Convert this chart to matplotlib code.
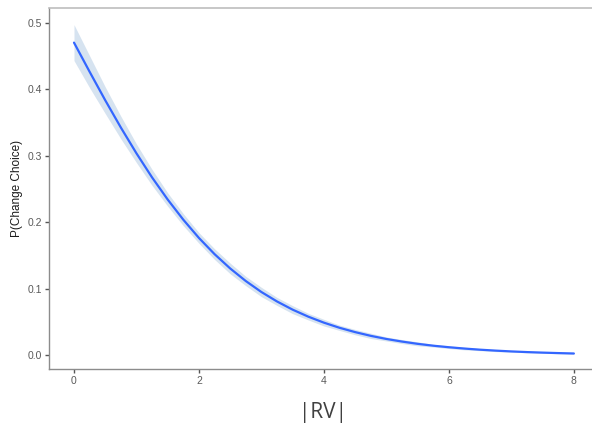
import numpy as np
import matplotlib
matplotlib.use("Agg")
import matplotlib.pyplot as plt

# |RV| grid and fitted probability
rv = [0.0, 0.25, 0.5, 0.75, 1.0, 1.25, 1.5, 1.75, 2.0, 2.25, 2.5, 2.75, 3.0,
      3.25, 3.5, 3.75, 4.0, 4.25, 4.5, 4.75, 5.0, 5.25, 5.5, 5.75, 6.0,
      6.25, 6.5, 6.75, 7.0, 7.25, 7.5, 7.75, 8.0]
p_change = [0.4700, 0.4262, 0.3834, 0.3424, 0.3036, 0.2674, 0.2342, 0.2039,
            0.1765, 0.1522, 0.1307, 0.1118, 0.0953, 0.0811, 0.0688, 0.0583,
            0.0493, 0.0416, 0.0351, 0.0295, 0.0248, 0.0209, 0.0175, 0.0147,
            0.0124, 0.0104, 0.0087, 0.0073, 0.0061, 0.0051, 0.0043, 0.0036,
            0.0030]
# half width of the confidence band
ci_half = [0.027, 0.024, 0.020, 0.017, 0.014, 0.012, 0.010, 0.009, 0.008,
           0.008, 0.008, 0.007, 0.007, 0.006, 0.006, 0.005, 0.005, 0.004,
           0.004, 0.004, 0.003, 0.003, 0.003, 0.002, 0.002, 0.002, 0.0015,
           0.0015, 0.001, 0.001, 0.001, 0.001, 0.001]

xticks = [0, 2, 4, 6, 8]
yticks = [0.0, 0.1, 0.2, 0.3, 0.4, 0.5]

plt.rcParams["font.family"] = ["Liberation Sans", "DejaVu Sans"]

fig = plt.figure(figsize=(5.92, 4.30), dpi=100)
ax = fig.add_axes([49 / 592, 61 / 430, 1 - 49 / 592, (369 - 8) / 430])

p = np.array(p_change)
h = np.array(ci_half)
ax.fill_between(rv, p - h, p + h, color="#d6e3f0", linewidth=0)
ax.plot(rv, p, color="#3366ff", linewidth=1.6, solid_capstyle="round")

ax.set_xlim(-0.4, 8.29)
ax.set_ylim(-0.0203, 0.522)
ax.set_xticks(xticks)
ax.set_xticklabels([str(t) for t in xticks])
ax.set_yticks(yticks)
ax.set_yticklabels(["%.1f" % t for t in yticks])

for s in ["left", "bottom"]:
    ax.spines[s].set_color("#8c8c8c")
    ax.spines[s].set_linewidth(1.0)
ax.spines["top"].set_color("#bdbdbd")
ax.spines["top"].set_linewidth(1.2)
ax.spines["right"].set_visible(False)

ax.tick_params(axis="both", length=3, width=1, color="#555555",
               labelcolor="#5a5a5a", labelsize=7.5, pad=2)

ax.set_ylabel("P(Change Choice)", fontsize=8.5, color="#1a1a1a", labelpad=3)
fig.text(0.545, 0.04, "|RV|", fontsize=15, color="#404040",
         family=["Open Sans", "DejaVu Sans"], ha="center", va="center")

fig.savefig("out.png", dpi=100)
